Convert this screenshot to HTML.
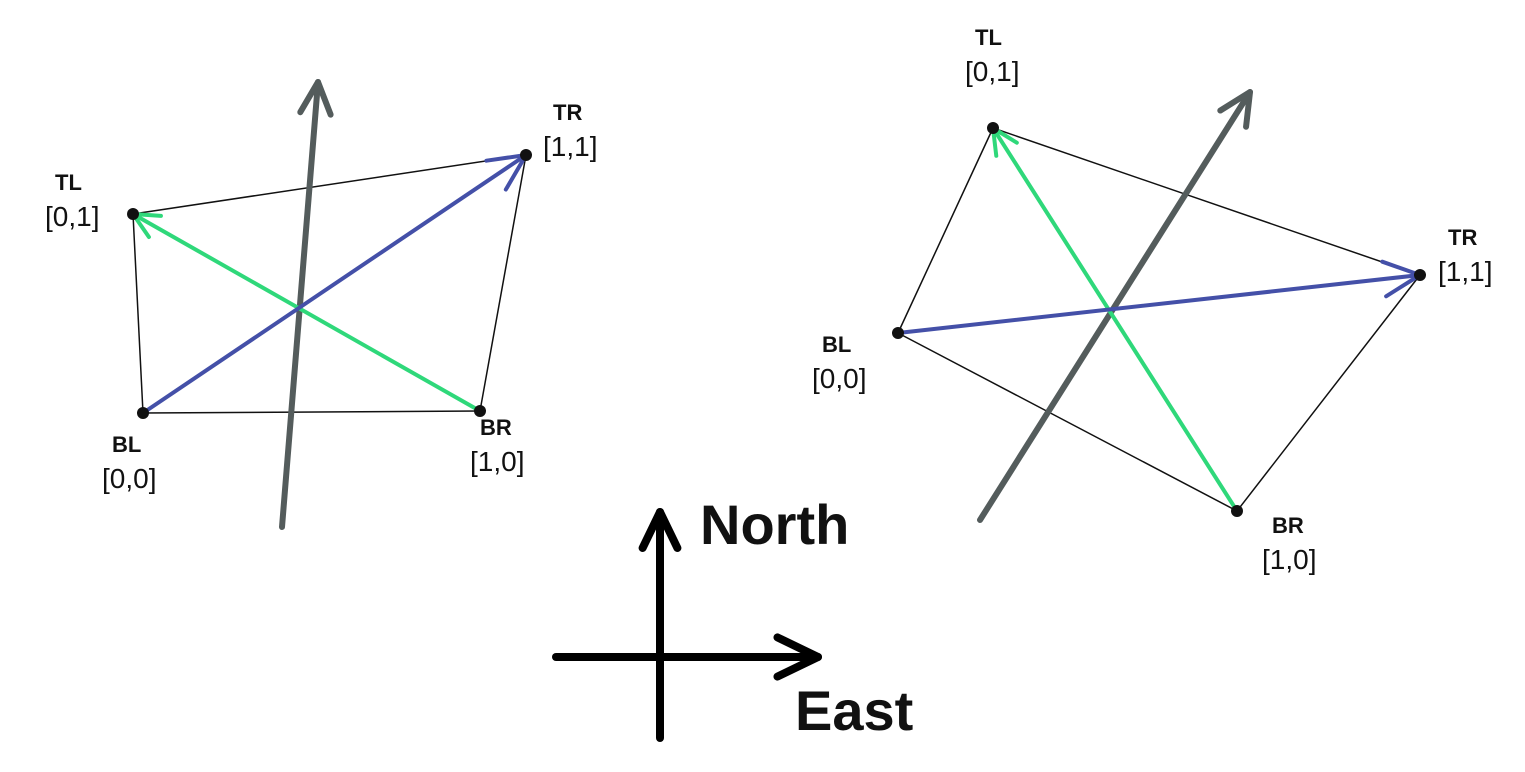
<!DOCTYPE html>
<html><head><meta charset="utf-8"><style>
html,body{margin:0;padding:0;background:#fff;}
svg{display:block;}
text{font-family:"Liberation Sans",sans-serif;fill:#111;}
</style></head><body>
<svg id="s" width="1525" height="772" viewBox="0 0 1525 772"></svg>
<script>
// corner points of each quad: TL, TR, BR, BL
const leftCorners = [[133,214],[526,155],[480,411],[143,413]];
const rightCorners = [[993,128],[1420,275],[1237,511],[898,333]];
const cornerNames = ["TL","TR","BR","BL"];
const cornerCoords = ["[0,1]","[1,1]","[1,0]","[0,0]"];
const leftLabelPos = [[55,190],[553,120],[480,435],[112,452]];
const rightLabelPos = [[975,45],[1448,245],[1272,533],[822,352]];
const leftArrow = [[282,527],[318,82]];
const rightArrow = [[980,520],[1250,92]];
const svg = document.getElementById('s');
const NS = 'http://www.w3.org/2000/svg';
function mk(tag, attrs){const e=document.createElementNS(NS,tag);for(const k in attrs)e.setAttribute(k,attrs[k]);svg.appendChild(e);return e;}
function line(a,b,color,w,name){
  const e=mk('line',{x1:a[0],y1:a[1],x2:b[0],y2:b[1],stroke:color,'stroke-width':w,'stroke-linecap':'round'});
  
  
  return e;
}
function head(a,b,color,w,len,name){
  const ang=Math.atan2(b[1]-a[1],b[0]-a[0]);
  const p1=[b[0]-len*Math.cos(ang-0.45),b[1]-len*Math.sin(ang-0.45)];
  const p2=[b[0]-len*Math.cos(ang+0.45),b[1]-len*Math.sin(ang+0.45)];
  const e=mk('polyline',{points:`${p1} ${b} ${p2}`,fill:'none',stroke:color,'stroke-width':w,'stroke-linecap':'round','stroke-linejoin':'round'});
  
  
}
function quad(c,lp,prefix,arrow){
  for(let i=0;i<4;i++) line(c[i],c[(i+1)%4],'#111',1.5,prefix+'-edge');
  line(arrow[0],arrow[1],'#545c5c',6,prefix+'-heading-arrow');
  head(arrow[0],arrow[1],'#545c5c',6,35,prefix+'-heading-arrowhead');
  line(c[2],c[0],'#2fd87a',4,prefix+'-green-diagonal');
  head(c[2],c[0],'#2fd87a',4,28,prefix+'-green-arrowhead');
  line(c[3],c[1],'#4450a8',4,prefix+'-blue-diagonal');
  head(c[3],c[1],'#4450a8',4,40,prefix+'-blue-arrowhead');
  for(let i=0;i<4;i++){
    const d=mk('circle',{cx:c[i][0],cy:c[i][1],r:6,fill:'#111'});
    
    
    const t=mk('text',{x:lp[i][0],y:lp[i][1],'font-size':22,'font-weight':'bold'});
    t.textContent=cornerNames[i];
    
    
    const t2=mk('text',{x:lp[i][0]-10,y:lp[i][1]+36,'font-size':28});
    t2.textContent=cornerCoords[i];
    
    
  }
}
quad(leftCorners,leftLabelPos,'left-quad',leftArrow);
quad(rightCorners,rightLabelPos,'right-quad',rightArrow);
// compass
line([660,738],[660,512],'#000',8,'compass-north-line');
head([660,738],[660,512],'#000',8,40,'compass-north-arrowhead');
line([556,657],[818,657],'#000',8,'compass-east-line');
head([556,657],[818,657],'#000',8,45,'compass-east-arrowhead');
const n=mk('text',{x:700,y:544,'font-size':56,'font-weight':'bold'});n.textContent='North';


const e=mk('text',{x:795,y:730,'font-size':56,'font-weight':'bold'});e.textContent='East';


</script>
</body></html>
